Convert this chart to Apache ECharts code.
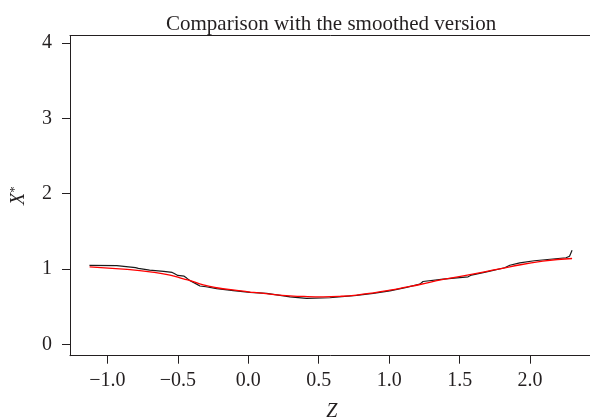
<!DOCTYPE html>
<html>
<head>
<meta charset="utf-8">
<script src="https://cdn.jsdelivr.net/npm/echarts@6/dist/echarts.min.js"></script>
<style>
  html, body { margin: 0; padding: 0; background: #fff; }
  #chart { width: 590px; height: 419px; }
</style>
</head>
<body>
<div id="chart"></div>
<script>
// empirical curve (black, step-like)
const rawZ = [-1.127, -0.933, -0.925, -0.80, -0.78, -0.768, -0.70, -0.60, -0.54, -0.525, -0.50, -0.455, -0.437, -0.413, -0.366, -0.343, -0.30, -0.224, -0.106, 0.012, 0.13, 0.25, 0.296, 0.414, 0.579, 0.769, 0.887, 1.005, 1.123, 1.218, 1.24, 1.383, 1.56, 1.584, 1.70, 1.82, 1.856, 1.868, 1.927, 2.03, 2.04, 2.255, 2.28, 2.298];
const rawX = [1.048, 1.045, 1.025, 1.02, 1.01, 0.995, 0.985, 0.968, 0.955, 0.94, 0.915, 0.905, 0.88, 0.845, 0.80, 0.775, 0.765, 0.74, 0.715, 0.69, 0.677, 0.645, 0.632, 0.61, 0.619, 0.65, 0.677, 0.71, 0.756, 0.80, 0.835, 0.866, 0.897, 0.92, 0.965, 1.017, 1.05, 1.075, 1.083, 1.11, 1.13, 1.15, 1.17, 1.25];

// smoothed curve (red)
const smoothZ = [-1.126, -0.86, -0.697, -0.555, -0.46, -0.41, -0.319, -0.224, -0.082, 0.012, 0.154, 0.296, 0.42, 0.532, 0.65, 0.769, 0.89, 1.005, 1.12, 1.218, 1.383, 1.62, 1.856, 2.09, 2.298];
const smoothX = [1.03, 0.995, 0.963, 0.92, 0.87, 0.845, 0.79, 0.752, 0.717, 0.695, 0.667, 0.645, 0.635, 0.632, 0.638, 0.655, 0.685, 0.72, 0.76, 0.795, 0.862, 0.942, 1.03, 1.105, 1.14];

const xTicks = [-1.0, -0.5, 0.0, 0.5, 1.0, 1.5, 2.0];
const yTicks = [0, 1, 2, 3, 4];

const ink = '#231f20';
const serif = '"Liberation Serif", "DejaVu Serif", serif';

const chart = echarts.init(document.getElementById('chart'));
chart.setOption({
  animation: false,
  title: {
    text: 'Comparison with the smoothed version',
    left: 161,
    top: 9,
    textStyle: { fontFamily: serif, fontSize: 21, fontWeight: 'normal', color: ink }
  },
  grid: { left: 70, right: -3.5, top: 35.5, bottom: 63.3, outerBoundsMode: 'none' },
  xAxis: [
    {
      type: 'value',
      min: -1.265,
      max: 2.45,
      splitLine: { show: false },
      axisLine: { onZero: false, lineStyle: { color: ink, width: 1 } },
      axisTick: { customValues: xTicks, length: 8, lineStyle: { color: ink } },
      axisLabel: {
        customValues: xTicks,
        margin: 15,
        fontFamily: serif, fontSize: 20, color: ink,
        formatter: v => (v < 0 ? '\u2212' : '') + Math.abs(v).toFixed(1)
      },
      name: 'Z',
      nameLocation: 'middle',
      nameGap: 46,
      nameTextStyle: { fontFamily: serif, fontSize: 20, fontStyle: 'italic', color: ink }
    },
    {
      type: 'value',
      position: 'top',
      min: -1.265,
      max: 2.45,
      splitLine: { show: false },
      axisLine: { show: true, onZero: false, lineStyle: { color: ink, width: 1 } },
      axisTick: { show: false },
      axisLabel: { show: false }
    }
  ],
  yAxis: {
    type: 'value',
    min: -0.15,
    max: 4.1,
    splitLine: { show: false },
    axisLine: { show: true, onZero: false, lineStyle: { color: ink, width: 1 } },
    axisTick: { show: true, customValues: yTicks, length: 8, lineStyle: { color: ink } },
    axisLabel: {
      customValues: yTicks,
      margin: 18,
      fontFamily: serif, fontSize: 20, color: ink
    },
    name: '{x|X}{s|*}',
    nameLocation: 'middle',
    nameGap: 40,
    nameTextStyle: {
      rich: {
        x: { fontFamily: serif, fontSize: 20, fontStyle: 'italic', color: ink },
        s: { fontFamily: serif, fontSize: 13, color: ink, padding: [0, 0, 9, 0] }
      }
    }
  },
  series: [
    {
      type: 'line',
      data: rawZ.map((z, i) => [z, rawX[i]]),
      showSymbol: false,
      lineStyle: { color: '#1a1a1a', width: 1.2 },
      z: 2
    },
    {
      type: 'line',
      data: smoothZ.map((z, i) => [z, smoothX[i]]),
      smooth: true,
      showSymbol: false,
      lineStyle: { color: '#ff0000', width: 1.3 },
      z: 3
    }
  ]
});
</script>
</body>
</html>
